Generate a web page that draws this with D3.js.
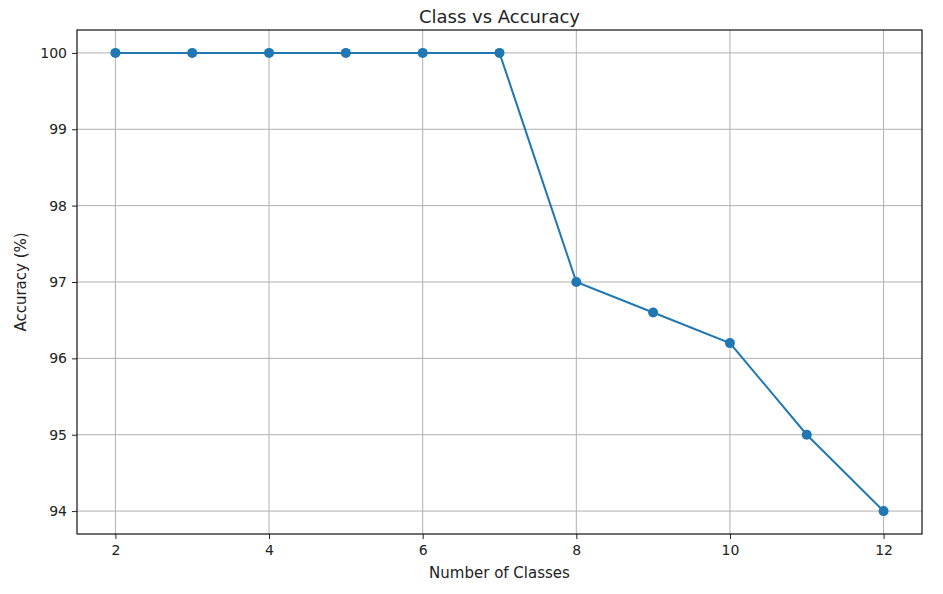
<!DOCTYPE html>
<html><head><meta charset="utf-8">
<script src="https://cdn.jsdelivr.net/npm/d3@7"></script>
<style>body{margin:0;background:#fff;} text{font-family:"DejaVu Sans",sans-serif;fill:#222;}</style>
</head><body>
<svg id="c" width="943" height="594"></svg>
<script>
const classes = [2,3,4,5,6,7,8,9,10,11,12];
const accuracy = [100,100,100,100,100,100,97,96.6,96.2,95,94];
const xTicks = [2,4,6,8,10,12];
const yTicks = [94,95,96,97,98,99,100];

const svg = d3.select("#c");
const m = {l:77, r:922, t:30, b:534};
const x = d3.scaleLinear().domain([1.5,12.5]).range([m.l,m.r]);
const y = d3.scaleLinear().domain([93.7,100.3]).range([m.b,m.t]);

const g = svg.append("g");
g.selectAll(".vg").data(xTicks).enter().append("line")
  .attr("x1",d=>x(d)).attr("x2",d=>x(d)).attr("y1",m.t).attr("y2",m.b)
  .attr("stroke","#b0b0b0").attr("stroke-width",1);
g.selectAll(".hg").data(yTicks).enter().append("line")
  .attr("y1",d=>y(d)).attr("y2",d=>y(d)).attr("x1",m.l).attr("x2",m.r)
  .attr("stroke","#b0b0b0").attr("stroke-width",1);

const xa = svg.append("g").attr("transform",`translate(0,${m.b})`)
  .call(d3.axisBottom(x).tickValues(xTicks).tickSize(5).tickPadding(6).tickFormat(d3.format("d")));
const ya = svg.append("g").attr("transform",`translate(${m.l},0)`)
  .call(d3.axisLeft(y).tickValues(yTicks).tickSize(5).tickPadding(5).tickFormat(d3.format("d")));
[xa,ya].forEach(a=>{
  a.select(".domain").remove();
  a.selectAll("text").style("font-size","14px").style("font-family","DejaVu Sans").attr("fill","#222");
  a.selectAll("line").attr("stroke","#222");
});

svg.append("rect").attr("x",m.l).attr("y",m.t).attr("width",m.r-m.l).attr("height",m.b-m.t)
  .attr("fill","none").attr("stroke","#111").attr("stroke-width",1.2);

const pts = classes.map((c,i)=>[c,accuracy[i]]);
svg.append("path").datum(pts)
  .attr("d",d3.line().x(d=>x(d[0])).y(d=>y(d[1])))
  .attr("fill","none").attr("stroke","#1f77b4").attr("stroke-width",2);
svg.selectAll(".pt").data(pts).enter().append("circle")
  .attr("cx",d=>x(d[0])).attr("cy",d=>y(d[1])).attr("r",5).attr("fill","#1f77b4");

svg.append("text").attr("x",(m.l+m.r)/2).attr("y",23).attr("text-anchor","middle")
  .style("font-size","18px").text("Class vs Accuracy");
svg.append("text").attr("x",(m.l+m.r)/2).attr("y",578).attr("text-anchor","middle")
  .style("font-size","15px").text("Number of Classes");
svg.append("text").attr("transform",`translate(26,${(m.t+m.b)/2}) rotate(-90)`).attr("text-anchor","middle")
  .style("font-size","15px").text("Accuracy (%)");
</script>
</body></html>
